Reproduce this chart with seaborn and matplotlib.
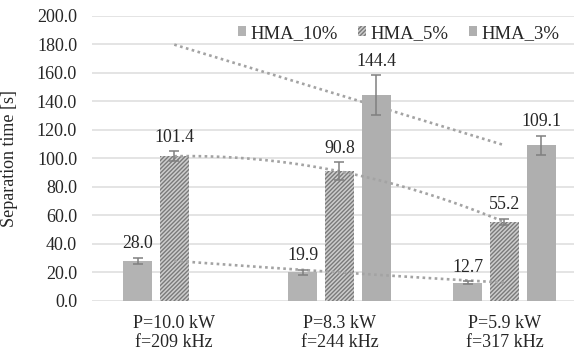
import numpy as np
import pandas as pd
import seaborn as sns
import matplotlib.pyplot as plt
import matplotlib.patches as mpatches

# chart data
conditions = ["P=10.0 kW\nf=209 kHz", "P=8.3 kW\nf=244 kHz", "P=5.9 kW\nf=317 kHz"]
series_names = ["HMA_10%", "HMA_5%", "HMA_3%"]
hma_10 = [28.0, 19.9, 12.7]
hma_5 = [101.4, 90.8, 55.2]
hma_3 = [np.nan, 144.4, 109.1]
err_10 = [2.2, 1.7, 0.8]
err_5 = [3.4, 6.2, 2.2]
err_3 = [np.nan, 13.8, 6.8]
yticks = [0, 20, 40, 60, 80, 100, 120, 140, 160, 180, 200]

values = [hma_10, hma_5, hma_3]
errors = [err_10, err_5, err_3]

dat = pd.DataFrame({
    "condition": np.tile(conditions, len(series_names)),
    "series": np.repeat(series_names, len(conditions)),
    "time": np.concatenate(values),
})

sns.set_style("white")
plt.rcParams["font.family"] = ["Liberation Serif", "DejaVu Serif"]
plt.rcParams["font.size"] = 12.8
plt.rcParams["hatch.linewidth"] = 1.0

colors = ["#b3b3b3", "#cdcdcd", "#afafaf"]
hatch_col = "#7a7a7a"
grid_col = "#dcdcdc"
err_col = "#808080"
trend_col = "#a3a3a3"

fig = plt.figure(figsize=(5.74, 3.52), dpi=100)
ax = fig.add_axes([0.1598, 0.1457, 0.8402, 0.8097])

sns.barplot(data=dat, x="condition", y="time", hue="series",
            hue_order=series_names, order=conditions,
            palette=colors, saturation=1, errorbar=None,
            width=0.667, gap=0.21, linewidth=0, legend=False,
            ax=ax, zorder=2)
bar_conts = list(ax.containers)

# hatch the HMA_5% bars
for bar in bar_conts[1]:
    if bar is None:
        continue
    bar.set_hatch("////////")
    bar.set_edgecolor(hatch_col)
    bar.set_linewidth(0)

# error bars and value labels
for i, cont in enumerate(bar_conts):
    for bar in cont:
        if bar is None:
            continue
        cx = bar.get_x() + bar.get_width() / 2
        k = int(round(cx))
        v = values[i][k]
        if np.isnan(v):
            continue
        e = errors[i][k]
        ax.errorbar(cx, v, yerr=e, fmt="none", ecolor=err_col,
                    elinewidth=1.1, capsize=3.5, capthick=1.1, zorder=4)
        ax.annotate(f"{v:.1f}", (cx, v + e), xytext=(0, 4),
                    textcoords="offset points", ha="center", va="bottom")

# trendlines: polynomial (order 2) for 3 points, linear for 2
xs = np.linspace(0, 2, 100)
for i, vals in enumerate(values):
    vals = np.array(vals)
    idx = np.where(~np.isnan(vals))[0]
    deg = 2 if len(idx) > 2 else 1
    coef = np.polyfit(idx, vals[idx], deg)
    ax.plot(xs, np.polyval(coef, xs), color=trend_col, lw=1.9,
            linestyle=(0, (1, 1.3)), zorder=3 if i < 2 else 1.5)

ax.set_xlim(-0.5, 2.421)
ax.set_ylim(0, 200)
ax.set_yticks(yticks)
ax.set_yticklabels([f"{t:.1f}" for t in yticks])
ax.yaxis.grid(True, color=grid_col, lw=1.1, zorder=0)
ax.set_axisbelow(True)
for s in ax.spines.values():
    s.set_visible(False)
ax.tick_params(axis="y", length=0, pad=10.5, labelsize=13)
ax.tick_params(axis="x", length=0, pad=10, labelsize=13)
ax.set_xlabel("")
ax.set_ylabel("Separation time [s]", fontsize=13)
ax.yaxis.set_label_coords(-0.153, 0.5)

handles = [mpatches.Patch(facecolor=colors[0], linewidth=0),
           mpatches.Patch(facecolor=colors[1], edgecolor=hatch_col,
                          hatch="////////", linewidth=0),
           mpatches.Patch(facecolor=colors[2], linewidth=0)]
ax.legend(handles, series_names, ncol=3, frameon=False, fontsize=13.5,
          loc="center", bbox_to_anchor=(0.636, 0.938),
          handlelength=0.45, handleheight=0.45, handletextpad=0.2,
          columnspacing=1.1, borderaxespad=0, borderpad=0)

fig.savefig("out.png", dpi=100)
